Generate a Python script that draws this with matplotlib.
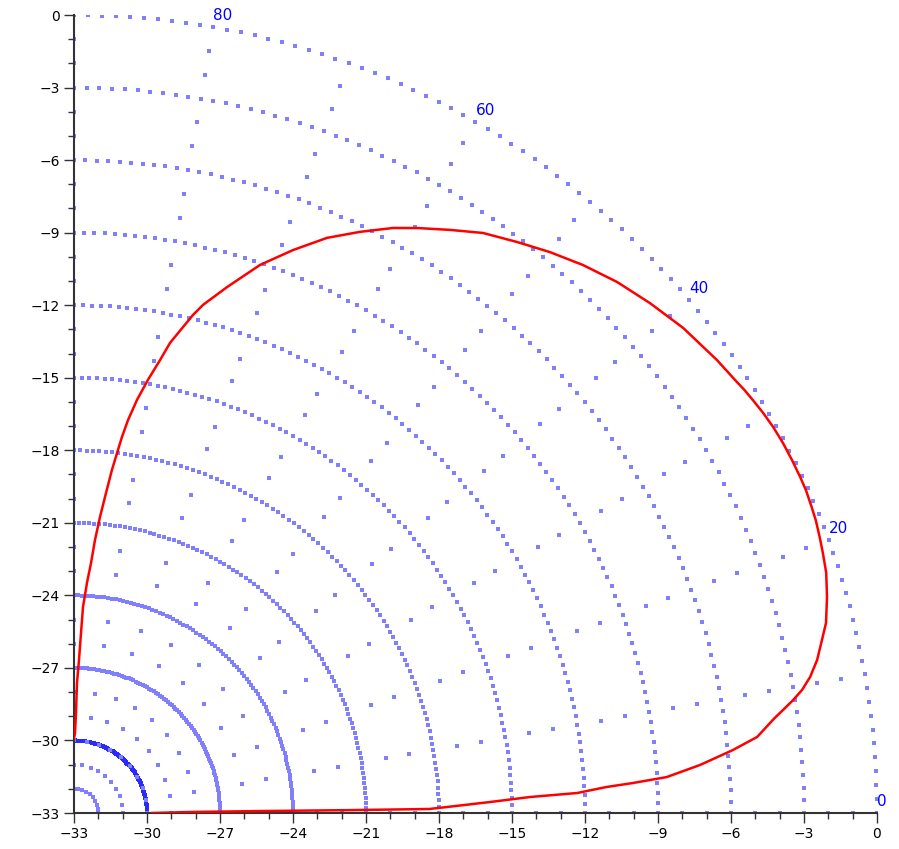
import matplotlib
matplotlib.use("Agg")
import matplotlib.pyplot as plt
import numpy as np

# radiation pattern: angle (deg) and level (dB, 0 = outer ring)
angles = [0, 0.5, 0.6, 0.6, 0.65, 1.06, 1.52, 2.02, 2.29, 2.81, 3.09, 3.49,
          4.41, 5.49, 6.39, 7.75, 8.32, 8.98, 9.65, 10.53, 11.71, 13.1, 14.27,
          16.1, 17.81, 19.25, 20.41, 21.64, 22.66, 23.91, 24.97, 26.32, 27.7,
          29.05, 30.29, 31.35, 32.38, 33.26, 35.33, 38.71, 41.7, 44.54, 47.29,
          49.87, 52.36, 54.98, 57.35, 59.69, 61.54, 63.95, 66.38, 68.86, 71.36,
          73.87, 75.84, 76.64, 77.43, 78.52, 79.31, 80.37, 81.38, 82.22, 82.78,
          83.22, 83.73, 84.32, 85.01, 85.63, 86.13, 86.79, 87.51, 87.78, 88.14,
          88.69, 88.87, 89.27, 90]
gain_db = [-29.8, -28.2, -25.5, -21.7, -18.4, -17.3, -15.9, -14.25, -12.3,
           -11.1, -10.0, -8.6, -7.2, -5.8, -4.75, -3.95, -3.55, -3.08, -2.65,
           -2.23, -1.81, -1.44, -1.11, -0.79, -0.53, -0.4, -0.3, -0.2, -0.15,
           -0.09, -0.08, -0.08, -0.09, -0.13, -0.2, -0.28, -0.36, -0.45, -0.61,
           -0.92, -1.3, -1.69, -2.16, -2.66, -3.18, -3.71, -4.36, -4.98, -5.48,
           -6.25, -7.04, -8.04, -9.08, -10.36, -11.33, -11.83, -12.41, -13.16,
           -13.94, -14.83, -15.72, -16.6, -17.33, -18.01, -18.73, -19.7, -20.71,
           -21.68, -22.64, -23.47, -24.47, -25.55, -26.67, -27.62, -28.86, -29.7,
           -29.9]

rmax = 33
ring_radii = list(range(3, 34, 3))
spoke_angles = list(range(0, 91, 10))
label_angles = [0, 20, 40, 60, 80]

fig = plt.figure(figsize=(8.99, 8.49), dpi=100)
ax = fig.add_axes([0.0823, 0.0424, 0.8932, 0.9399])

dot = dict(marker="s", ms=2.3, ls="none", mew=0, zorder=1, antialiased=False)

# rings: one dot per degree
deg = np.radians(np.arange(0, 91, 1))
for r in ring_radii:
    c = "#2a2aff" if r == 3 else "#8080ff"
    ax.plot(-rmax + r * np.cos(deg), -rmax + r * np.sin(deg), color=c, **dot)

# spokes: one dot per unit of radius
rr = np.arange(1, rmax + 1)
for a in spoke_angles:
    t = np.radians(a)
    ax.plot(-rmax + rr * np.cos(t), -rmax + rr * np.sin(t), color="#8080ff", **dot)

for a in label_angles:
    t = np.radians(a)
    ax.annotate(str(a), (-rmax + rmax * np.cos(t), -rmax + rmax * np.sin(t)),
                xytext=(0, 3), textcoords="offset points",
                color="blue", fontsize=11, ha="left", va="bottom",
                annotation_clip=False)

# the pattern itself
th = np.radians(angles)
r = rmax + np.array(gain_db)
ax.plot(-rmax + r * np.cos(th), -rmax + r * np.sin(th), color="red", lw=1.8,
        solid_joinstyle="round", zorder=4)

ax.set_xlim(-33, 0)
ax.set_ylim(-33, 0)
ax.set_xticks(np.arange(-33, 1, 3))
ax.set_yticks(np.arange(-33, 1, 3))
ax.set_xticks(np.arange(-33, 1, 1), minor=True)
ax.set_yticks(np.arange(-33, 1, 1), minor=True)
ax.tick_params(which="major", direction="out", length=7, width=1, color="#333333",
               labelsize=10, pad=3)
ax.tick_params(which="minor", direction="out", length=4, width=1, color="#333333")
for side in ["top", "right"]:
    ax.spines[side].set_visible(False)
for side in ["left", "bottom"]:
    ax.spines[side].set_color("#333333")
    ax.spines[side].set_linewidth(1.5)
    ax.spines[side].set_zorder(3)

fig.savefig("out.png", dpi=100)
